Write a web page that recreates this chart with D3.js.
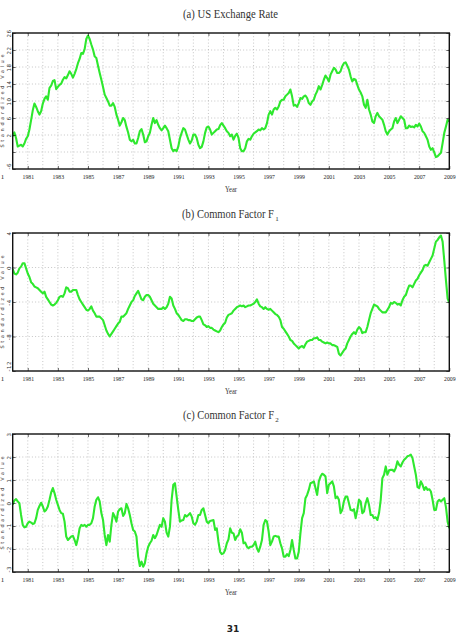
<!DOCTYPE html>
<html>
<head>
<meta charset="utf-8">
<script src="https://cdn.jsdelivr.net/npm/d3@7"></script>
<style>
  body { margin: 0; background: #fff; }
  svg { display: block; }
</style>
</head>
<body>
<div id="chart"></div>
<script>
// time axis: series start Jan 1980, end 2009
const firstYear = 1980;
const lastYear = 2009;
const yearTicks = d3.range(1981, 2010, 2);
const yearGrid = d3.range(1981, 2009);

// (a) US exchange rate
const ticksA = [26, 22, 18, 14, 10, 6, 2, -2, -6];
const tickLabelsA = ["26", "22", "18", "14", "10", "6", "2", "", "-6"];
const usRate = [
  1.7, 2.6, 1.3, -0.7, -0.5, -0.3, -0.7, 0.0, 1.1, 1.7,
  3.3, 5.5, 7.8, 9.4, 8.6, 7.6, 6.8, 7.6, 9.4, 10.5,
  11.1, 10.3, 13.1, 13.6, 14.7, 14.9, 12.8, 13.3, 13.8, 14.1,
  15.0, 15.6, 15.3, 16.1, 17.0, 16.4, 15.5, 16.4, 17.5, 18.9,
  19.9, 21.3, 21.1, 22.2, 24.6, 25.4, 24.6, 23.3, 22.1, 20.5,
  20.1, 18.3, 16.6, 15.0, 13.3, 11.5, 10.7, 9.9, 8.9, 8.9,
  9.5, 8.6, 6.8, 5.6, 4.2, 5.0, 6.0, 5.5, 3.9, 2.6,
  0.9, 0.5, 0.9, 0.0, 0.0, 1.3, 2.9, 3.4, 2.1, 0.3,
  0.5, 1.7, 2.5, 4.4, 6.0, 4.8, 5.5, 4.4, 3.6, 3.1,
  3.6, 4.2, 3.6, 2.9, 0.9, -1.1, -1.8, -1.5, -1.8, -0.7,
  1.3, 2.5, 3.6, 3.3, 2.1, 0.9, 0.0, 0.7, 2.1, 2.1,
  1.3, -0.3, -1.1, -0.8, 0.5, 2.5, 3.8, 4.0, 3.3, 2.1,
  2.5, 2.9, 3.3, 3.4, 4.3, 4.8, 4.2, 3.6, 2.9, 2.5,
  1.7, 2.1, 0.9, 1.8, 2.3, 1.3, -1.1, -1.8, -1.8, -1.1,
  0.5, 1.1, 0.9, 1.7, 2.3, 2.6, 2.9, 3.3, 3.1, 3.6,
  3.3, 3.6, 4.8, 6.8, 7.6, 6.8, 8.0, 8.4, 8.0, 8.7,
  9.9, 10.3, 10.3, 11.1, 11.5, 11.9, 12.7, 11.1, 8.9, 9.1,
  8.6, 9.5, 10.7, 10.5, 11.1, 11.3, 10.7, 9.5, 9.1, 9.9,
  10.3, 11.5, 12.3, 13.5, 12.7, 13.8, 15.0, 16.0, 15.4, 14.6,
  16.2, 17.0, 17.8, 17.4, 16.6, 16.6, 17.0, 18.2, 18.9, 19.1,
  18.3, 17.4, 15.8, 14.6, 15.2, 15.0, 13.8, 12.7, 12.0, 11.1,
  9.1, 8.4, 10.3, 8.0, 6.8, 5.2, 4.8, 6.4, 7.2, 6.4,
  6.0, 5.6, 4.4, 2.9, 2.1, 2.9, 3.3, 3.6, 5.2, 6.0,
  4.8, 5.6, 6.4, 6.0, 5.6, 3.6, 3.6, 4.2, 3.9, 4.0,
  3.8, 4.4, 4.0, 4.7, 4.0, 2.9, 2.5, 1.7, 0.9, -0.7,
  -1.5, -1.1, -2.1, -3.2, -3.0, -2.6, -2.2, 0.1, 2.5, 4.0,
  5.6, 5.2
];

// (b) common factor F1
const ticksB = [4, 0, -4, -8, -12];
const tickLabelsB = ["4", "0", "-4", "-8", "-12"];
const factor1 = [
  -0.2, -0.7, -0.8, -0.6, -0.1, 0.1, 0.5, 0.5, -0.1, -0.7,
  -1.1, -1.7, -1.9, -2.2, -2.3, -2.4, -2.6, -2.8, -3.0, -2.8,
  -3.4, -3.7, -4.0, -4.3, -4.4, -4.3, -4.1, -3.8, -3.4, -3.3,
  -3.4, -3.0, -2.3, -2.4, -2.8, -2.8, -2.6, -2.6, -2.6, -3.2,
  -3.7, -4.0, -4.3, -4.6, -4.9, -5.0, -4.8, -4.5, -5.0, -5.3,
  -5.7, -5.7, -5.7, -5.9, -6.1, -6.7, -7.3, -7.7, -8.0, -7.7,
  -7.4, -7.1, -6.8, -6.5, -6.3, -5.7, -5.7, -5.5, -5.3, -4.8,
  -4.4, -4.0, -3.8, -3.3, -3.0, -2.7, -3.2, -3.7, -3.8, -3.4,
  -3.2, -3.2, -3.4, -3.8, -4.2, -4.4, -4.6, -4.8, -4.8, -4.8,
  -4.6, -4.8, -4.6, -4.2, -3.4, -3.6, -4.4, -4.8, -5.3, -5.5,
  -5.8, -6.1, -6.2, -6.0, -6.0, -6.1, -6.1, -6.2, -6.2, -6.0,
  -5.8, -5.7, -5.7, -6.1, -6.6, -6.7, -6.9, -6.8, -7.0, -7.0,
  -7.2, -7.3, -7.4, -7.5, -7.3, -6.9, -6.6, -6.4, -5.8, -5.5,
  -5.4, -5.3, -5.0, -4.8, -4.6, -4.5, -4.4, -4.5, -4.4, -4.6,
  -4.5, -4.4, -4.4, -4.3, -4.2, -4.0, -3.7, -4.2, -4.5, -4.6,
  -4.8, -4.6, -4.8, -4.9, -4.8, -5.0, -5.2, -5.4, -5.5, -5.7,
  -6.1, -6.9, -7.1, -7.4, -7.7, -8.0, -8.4, -8.5, -8.8, -9.0,
  -9.2, -9.4, -9.2, -9.1, -9.3, -8.9, -8.6, -8.5, -8.4, -8.4,
  -8.2, -8.2, -8.1, -8.4, -8.4, -8.6, -8.7, -8.8, -8.7, -8.8,
  -8.8, -9.0, -9.0, -9.1, -9.2, -10.0, -10.2, -9.9, -9.6, -9.4,
  -8.8, -8.4, -8.0, -7.7, -7.5, -7.7, -7.2, -6.9, -7.1, -7.6,
  -7.5, -7.5, -6.9, -6.1, -5.3, -4.8, -4.3, -4.4, -4.5, -4.8,
  -5.0, -5.2, -5.2, -5.2, -4.9, -4.6, -4.1, -4.2, -4.0, -4.1,
  -4.3, -4.2, -4.4, -3.8, -3.4, -3.2, -2.6, -2.1, -2.1, -2.3,
  -1.9, -1.5, -1.3, -0.9, -0.6, -0.3, 0.2, 0.3, 0.2, 0.6,
  1.0, 1.4, 2.2, 3.0, 3.2, 3.5, 3.7, 3.0, 0.8, -1.5,
  -3.6, -4.1
];

// (c) common factor F2
const ticksC = [3, 2, 1, 0, -1, -2, -3];
const tickLabelsC = ["3", "2", "1", "0", "-1", "-2", "-3"];
const factor2 = [
  -0.08, 0.11, 0.17, 0.07, -0.01, -0.52, -0.95, -1.06, -1.03, -0.88,
  -0.81, -0.85, -0.91, -0.88, -0.66, -0.30, -0.13, 0.01, -0.15, -0.37,
  -0.30, -0.15, 0.14, 0.46, 0.65, 0.43, 0.14, -0.08, -0.30, -0.44,
  -0.47, -0.81, -1.46, -1.61, -1.53, -1.46, -1.43, -1.61, -1.83, -1.53,
  -1.10, -0.95, -1.00, -0.95, -1.03, -0.95, -0.95, -0.88, -0.66, -0.15,
  0.14, 0.25, 0.07, -0.44, -0.74, -1.39, -1.83, -1.39, -1.68, -0.95,
  -0.44, -0.59, -0.81, -0.37, -0.27, -0.23, -0.56, -0.44, -0.04, -0.23,
  -0.52, -0.88, -1.17, -1.24, -1.46, -2.33, -2.74, -2.55, -2.77, -2.62,
  -2.19, -1.90, -1.75, -1.64, -1.39, -1.53, -1.39, -1.17, -0.95, -1.03,
  -0.66, -0.81, -1.29, -1.46, -1.03, 0.14, 0.79, 0.86, 0.28, -0.30,
  -0.81, -0.76, -0.74, -0.52, -0.59, -0.52, -0.44, -0.59, -0.88, -0.95,
  -0.81, -0.52, -0.52, -0.30, -0.23, -0.52, -0.81, -0.88, -0.78, -0.76,
  -0.74, -1.17, -1.10, -1.68, -2.12, -2.22, -2.19, -2.04, -1.75, -1.58,
  -1.10, -1.29, -1.32, -1.61, -1.46, -1.39, -1.14, -1.29, -1.75, -1.72,
  -1.90, -1.97, -1.90, -1.90, -1.83, -1.68, -1.97, -2.12, -1.90, -1.61,
  -0.95, -0.74, -0.81, -1.24, -1.83, -1.68, -1.46, -1.43, -1.46, -1.46,
  -1.75, -1.97, -2.33, -2.33, -2.22, -2.31, -2.04, -1.61, -2.04, -2.41,
  -2.41, -2.12, -1.32, -0.66, -0.44, 0.21, 0.35, 0.57, 0.86, 0.89,
  0.94, 0.65, 0.35, 0.94, 1.15, 1.27, 1.23, 1.15, 0.43, 0.79,
  0.86, 0.94, 0.72, 0.21, 0.28, 0.14, -0.44, -0.30, 0.07, 0.28,
  0.28, -0.01, -0.30, -0.33, -0.27, -0.66, -0.30, 0.14, 0.07, -0.44,
  -0.37, -0.01, 0.21, -0.08, -0.52, -0.52, -0.66, -0.62, -0.74, -0.44,
  0.14, 1.08, 1.23, 1.59, 1.23, 1.42, 1.44, 1.44, 1.37, 1.52,
  1.81, 1.66, 1.59, 1.76, 1.88, 1.95, 2.03, 2.06, 2.10, 1.95,
  1.59, 1.23, 0.69, 0.65, 0.94, 0.79, 0.57, 0.69, 0.57, 0.60,
  0.50, 0.14, -0.30, -0.30, 0.07, 0.14, 0.07, 0.14, 0.21, -0.18,
  -0.81, -1.10
];

const width = 457;
const height = 633;
const left = 12.7;
const right = 449.3;
const lineColor = "#2ee82e";
const serif = "'Liberation Serif', 'DejaVu Serif', serif";
const sans = "'DejaVu Sans', 'Liberation Sans', sans-serif";

const panels = [
  { title: "(a) US Exchange Rate", sub: null, titleX: 183, titleW: 95,
    top: 33, bottom: 169, ticks: ticksA, labels: tickLabelsA, values: usRate },
  { title: "(b) Common Factor F", sub: "1", titleX: 182, titleW: 92,
    top: 233, bottom: 371, ticks: ticksB, labels: tickLabelsB, values: factor1 },
  { title: "(c) Common Factor F", sub: "2", titleX: 183, titleW: 91,
    top: 434, bottom: 572, ticks: ticksC, labels: tickLabelsC, values: factor2 },
];

const svg = d3
  .select("#chart")
  .append("svg")
  .attr("width", width)
  .attr("height", height)
  .style("background", "#fff");

const x = d3.scaleLinear().domain([firstYear, lastYear]).range([left, right]);

panels.forEach(function (p, idx) {
  const ticks = p.ticks;
  const y = d3
    .scaleLinear()
    .domain([ticks[ticks.length - 1], ticks[0]])
    .range([p.bottom, p.top]);

  const g = svg.append("g").attr("class", "panel");

  // dotted grid, one line per year and per y tick
  g.append("g")
    .selectAll("line")
    .data(yearGrid)
    .join("line")
    .attr("x1", (d) => x(d))
    .attr("x2", (d) => x(d))
    .attr("y1", p.top)
    .attr("y2", p.bottom)
    .attr("stroke", "#a0a0a0")
    .attr("stroke-width", 0.6)
    .attr("stroke-dasharray", "1,2.2");

  g.append("g")
    .selectAll("line")
    .data(ticks.slice(1, -1))
    .join("line")
    .attr("x1", left)
    .attr("x2", right)
    .attr("y1", (d) => y(d))
    .attr("y2", (d) => y(d))
    .attr("stroke", "#a0a0a0")
    .attr("stroke-width", 0.6)
    .attr("stroke-dasharray", "1,2.2");

  // series
  const n = p.values.length;
  const dates = p.values.map((v, i) => firstYear + (i * (lastYear - firstYear)) / (n - 1));

  svg
    .append("clipPath")
    .attr("id", "clip" + idx)
    .append("rect")
    .attr("x", left)
    .attr("y", p.top)
    .attr("width", right - left)
    .attr("height", p.bottom - p.top);

  const line = d3
    .line()
    .x((d, i) => x(dates[i]))
    .y((d) => y(d));

  g.append("path")
    .datum(p.values)
    .attr("clip-path", "url(#clip" + idx + ")")
    .attr("d", line)
    .attr("fill", "none")
    .attr("stroke", lineColor)
    .attr("stroke-width", 2.1)
    .attr("stroke-linejoin", "round");

  // axes (ticks point inward)
  const xAxis = g
    .append("g")
    .attr("transform", `translate(0,${p.bottom})`)
    .call(
      d3.axisBottom(x)
        .tickValues(yearTicks)
        .tickFormat(d3.format("d"))
        .tickSizeInner(-3)
        .tickSizeOuter(0)
    );
  xAxis.select(".domain").remove();
  xAxis.selectAll("line").attr("stroke", "#000").attr("stroke-width", 0.6);
  xAxis
    .selectAll("text")
    .attr("y", 10)
    .attr("dy", null)
    .attr("fill", "#222")
    .style("font-family", serif)
    .style("font-size", "7px")
    .attr("textLength", 11.5)
    .attr("lengthAdjust", "spacingAndGlyphs");

  const topAxis = g
    .append("g")
    .attr("transform", `translate(0,${p.top})`)
    .call(d3.axisTop(x).tickValues(yearTicks).tickFormat("").tickSizeInner(-3).tickSizeOuter(0));
  topAxis.select(".domain").remove();
  topAxis.selectAll("line").attr("stroke", "#000").attr("stroke-width", 0.6);

  const yAxis = g
    .append("g")
    .attr("transform", `translate(${left},0)`)
    .call(
      d3.axisLeft(y)
        .tickValues(ticks)
        .tickFormat((d, i) => p.labels[i])
        .tickSizeInner(-3)
        .tickSizeOuter(0)
    );
  yAxis.select(".domain").remove();
  yAxis.selectAll("line").attr("stroke", "#000").attr("stroke-width", 0.6);
  yAxis
    .selectAll("text")
    .attr("x", null)
    .attr("dy", null)
    .attr("transform", `translate(${8.6 - left},0) rotate(-90)`)
    .attr("text-anchor", (d, i) => (i === ticks.length - 1 ? "start" : "middle"))
    .attr("dominant-baseline", "central")
    .attr("fill", "#333")
    .style("font-family", sans)
    .style("font-size", "5.5px")
    .style("letter-spacing", "0.5px");

  const rightAxis = g
    .append("g")
    .attr("transform", `translate(${right},0)`)
    .call(d3.axisRight(y).tickValues(ticks).tickFormat("").tickSizeInner(-3).tickSizeOuter(0));
  rightAxis.select(".domain").remove();
  rightAxis.selectAll("line").attr("stroke", "#000").attr("stroke-width", 0.6);

  // frame
  g.append("rect")
    .attr("x", left)
    .attr("y", p.top)
    .attr("width", right - left)
    .attr("height", p.bottom - p.top)
    .attr("fill", "none")
    .attr("stroke", "#111")
    .attr("stroke-width", 1.4);

  // stray "1" left of the first year label
  g.append("text")
    .attr("x", 2.5)
    .attr("y", p.bottom + 10)
    .attr("text-anchor", "middle")
    .attr("fill", "#222")
    .style("font-family", serif)
    .style("font-size", "7px")
    .text("1");

  // y axis title
  g.append("text")
    .attr("transform", `translate(2.4,${(p.top + p.bottom) / 2}) rotate(-90)`)
    .attr("text-anchor", "middle")
    .attr("dominant-baseline", "central")
    .attr("fill", "#333")
    .style("font-family", sans)
    .style("font-size", "5px")
    .attr("textLength", 93)
    .attr("lengthAdjust", "spacing")
    .text("Standardized Value");

  // x axis title
  g.append("text")
    .attr("x", (left + right) / 2)
    .attr("y", p.bottom + 22.5)
    .attr("text-anchor", "middle")
    .attr("fill", "#333")
    .style("font-family", serif)
    .style("font-size", "8px")
    .attr("textLength", 12)
    .attr("lengthAdjust", "spacingAndGlyphs")
    .text("Year");

  // panel title, squeezed horizontally to the narrow look of the original
  const title = g
    .append("text")
    .attr("fill", "#333")
    .style("font-family", serif)
    .style("font-size", "13px")
    .text(p.title);
  const natural = title.node().getComputedTextLength();
  const sx = p.titleW / natural;
  title.attr("transform", `translate(${p.titleX},${p.top - 15}) scale(${sx},1)`);

  if (p.sub) {
    g.append("text")
      .attr("x", p.titleX + p.titleW + 1.2)
      .attr("y", p.top - 12)
      .attr("fill", "#333")
      .style("font-family", serif)
      .style("font-size", "7px")
      .text(p.sub);
  }
});

// page number
svg
  .append("text")
  .attr("x", 233)
  .attr("y", 632)
  .attr("text-anchor", "middle")
  .attr("fill", "#222")
  .style("font-family", sans)
  .style("font-weight", "bold")
  .style("font-size", "9px")
  .text("31");
</script>
</body>
</html>
